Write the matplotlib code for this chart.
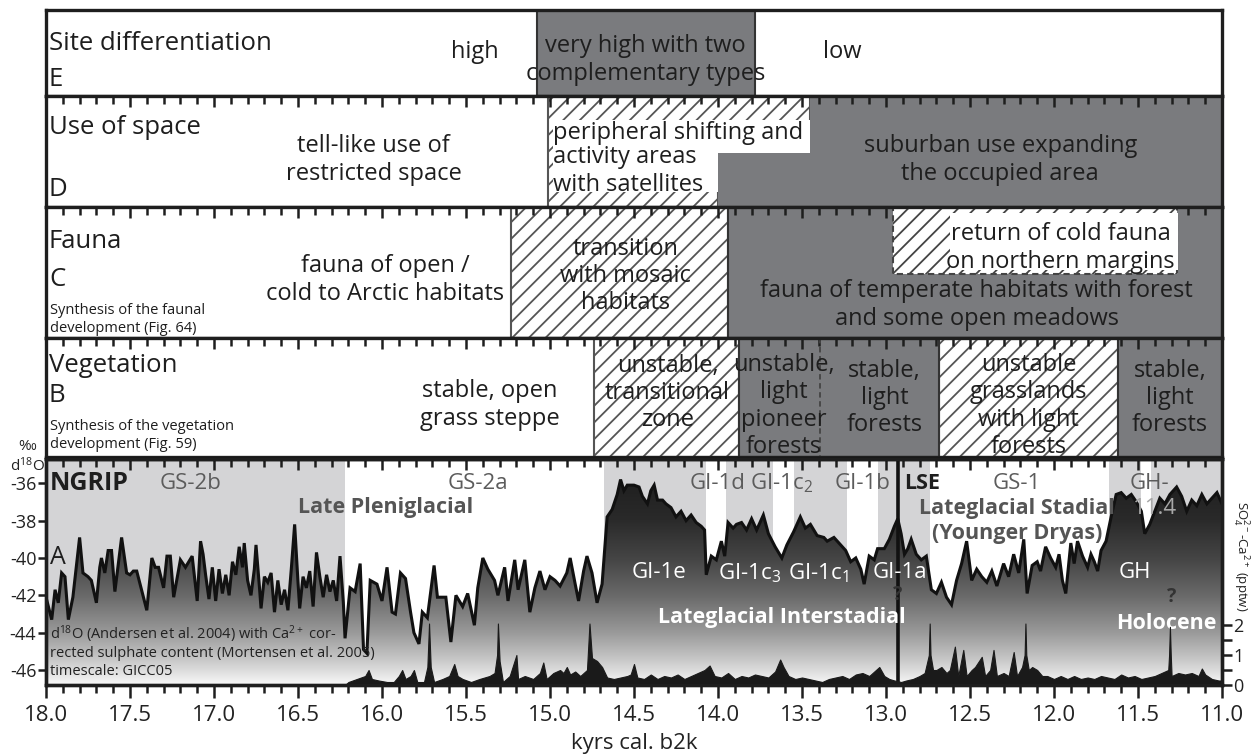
import numpy as np
import matplotlib
matplotlib.use('Agg')
import matplotlib.pyplot as plt
from matplotlib.ticker import MultipleLocator, FixedLocator
from matplotlib.patches import Rectangle, Polygon, PathPatch
from matplotlib.colors import LinearSegmentedColormap

plt.rcParams['font.family'] = ['Open Sans', 'DejaVu Sans']
plt.rcParams['mathtext.fontset'] = 'custom'
plt.rcParams['mathtext.rm'] = 'Open Sans'
plt.rcParams['mathtext.it'] = 'Open Sans'
plt.rcParams['mathtext.bf'] = 'Open Sans:bold'
plt.rcParams['hatch.linewidth'] = 1.3
plt.rcParams['hatch.color'] = '#555555'

DARK = '#7a7b7e'
LIGHT = '#d4d4d6'
INK = '#1e1e1e'

# ---------------- data ----------------
# NGRIP d18O (permil), kyr b2k
t_d18o = [18.00, 17.966, 17.946, 17.927, 17.907, 17.887, 17.867, 17.84, 17.80, 17.78,
          17.75, 17.73, 17.70, 17.68, 17.67, 17.65, 17.63, 17.61, 17.59, 17.55,
          17.52, 17.50, 17.48, 17.46, 17.40, 17.37, 17.35, 17.33, 17.30, 17.28,
          17.26, 17.24, 17.20, 17.17, 17.13, 17.10, 17.08, 17.065, 17.05, 17.03,
          17.01, 16.99, 16.97, 16.95, 16.93, 16.91, 16.89, 16.87, 16.85, 16.83,
          16.82, 16.80, 16.78, 16.76, 16.75, 16.73, 16.72, 16.70, 16.68, 16.66,
          16.64, 16.62, 16.60, 16.58, 16.56, 16.54, 16.52, 16.50, 16.49, 16.47,
          16.45, 16.43, 16.41, 16.39, 16.37, 16.35, 16.33, 16.31, 16.29, 16.27,
          16.25, 16.23, 16.22, 16.19, 16.16, 16.13, 16.11, 16.09, 16.07, 16.03,
          16.00, 15.97, 15.94, 15.92, 15.89, 15.86, 15.83, 15.81, 15.78, 15.76,
          15.73, 15.69, 15.67, 15.62, 15.59, 15.56, 15.52, 15.49, 15.45, 15.43,
          15.40, 15.37, 15.33, 15.31, 15.27, 15.25, 15.21, 15.19, 15.15, 15.12,
          15.09, 15.06, 15.03, 15.00, 14.97, 14.94, 14.90, 14.88, 14.85, 14.83,
          14.80, 14.78, 14.75, 14.72, 14.69, 14.66, 14.63, 14.60, 14.58, 14.56,
          14.54, 14.50, 14.47, 14.45, 14.42, 14.40, 14.38, 14.36, 14.33, 14.31,
          14.28, 14.25, 14.22, 14.19, 14.16, 14.13, 14.10, 14.08, 14.07, 14.04,
          14.01, 13.98, 13.96, 13.94, 13.91, 13.89, 13.86, 13.83, 13.80, 13.77,
          13.73, 13.70, 13.66, 13.62, 13.59, 13.55, 13.51, 13.48, 13.45, 13.41,
          13.37, 13.35, 13.31, 13.27, 13.24, 13.21, 13.18, 13.15, 13.13, 13.10,
          13.07, 13.05, 13.01, 12.98, 12.95, 12.93, 12.91, 12.89, 12.87, 12.85,
          12.82, 12.79, 12.76, 12.73, 12.70, 12.67, 12.64, 12.61, 12.58, 12.55,
          12.52, 12.49, 12.46, 12.43, 12.40, 12.37, 12.34, 12.30, 12.27, 12.24,
          12.21, 12.18, 12.16, 12.13, 12.10, 12.08, 12.05, 12.02, 11.99, 11.97,
          11.95, 11.93, 11.90, 11.88, 11.86, 11.83, 11.80, 11.78, 11.76, 11.74,
          11.72, 11.69, 11.66, 11.63, 11.60, 11.57, 11.54, 11.51, 11.48, 11.46,
          11.43, 11.40, 11.37, 11.34, 11.31, 11.27, 11.24, 11.21, 11.18, 11.15,
          11.12, 11.09, 11.06, 11.03, 11.00]
v_d18o = [-42.1, -43.3, -41.7, -42.4, -40.8, -41.0, -43.3, -42.1, -38.9, -40.8,
          -41.0, -41.2, -42.4, -40.5, -40.0, -40.8, -39.6, -39.6, -41.8, -38.9,
          -40.8, -40.9, -40.7, -40.7, -42.8, -40.0, -40.5, -40.5, -41.6, -39.9,
          -39.9, -42.1, -40.1, -40.5, -39.9, -42.3, -39.1, -39.8, -40.9, -42.2,
          -40.5, -42.3, -40.6, -41.9, -40.9, -42.0, -40.2, -40.9, -39.4, -40.5,
          -39.2, -41.2, -42.0, -40.6, -39.3, -41.5, -42.7, -41.0, -41.3, -40.8,
          -42.9, -41.2, -42.5, -41.7, -42.8, -40.6, -38.2, -41.3, -42.7, -41.0,
          -41.6, -40.7, -42.6, -39.7, -41.0, -42.1, -40.9, -41.8, -41.2, -42.3,
          -39.9, -42.4, -44.3, -41.6, -41.8, -40.3, -44.9, -45.1, -41.2, -41.4,
          -42.3, -40.5, -42.9, -43.0, -40.8, -41.1, -42.9, -44.0, -44.6, -42.9,
          -43.2, -40.4, -42.1, -42.1, -44.5, -42.0, -42.6, -41.9, -43.6, -41.6,
          -40.0, -40.6, -41.2, -42.0, -40.5, -42.3, -40.1, -41.7, -40.1, -42.9,
          -41.6, -40.7, -41.7, -41.0, -41.2, -41.5, -40.8, -40.0, -41.4, -42.3,
          -40.7, -39.9, -40.8, -42.4, -41.4, -37.8, -37.4, -36.6, -35.8, -36.4,
          -36.1, -36.1, -36.2, -36.7, -37.1, -36.4, -36.1, -36.9, -36.9, -37.1,
          -37.3, -37.8, -37.5, -38.0, -37.7, -38.1, -38.3, -38.5, -40.9, -39.9,
          -40.1, -39.1, -39.9, -38.1, -38.4, -38.2, -38.1, -38.5, -37.9, -38.5,
          -37.7, -38.7, -39.4, -40.0, -39.3, -38.6, -37.8, -38.4, -38.2, -38.8,
          -38.9, -39.1, -38.9, -39.3, -39.6, -40.2, -40.0, -40.6, -41.4, -39.9,
          -40.1, -39.5, -39.5, -39.0, -38.3, -37.9, -38.7, -39.8, -39.5, -39.0,
          -39.8, -40.1, -39.9, -41.7, -41.9, -41.3, -42.1, -42.5, -41.2, -40.3,
          -39.1, -41.2, -40.6, -41.0, -41.3, -40.7, -41.5, -40.3, -41.0, -39.8,
          -40.8, -39.0, -41.9, -40.4, -40.2, -40.7, -39.4, -40.0, -40.5, -39.8,
          -41.2, -41.9, -39.2, -40.3, -39.1, -39.9, -40.5, -39.8, -40.2, -40.7,
          -39.6, -39.1, -37.8, -36.6, -36.5, -36.8, -36.6, -37.0, -37.5, -38.7,
          -38.2, -37.5, -36.8, -37.1, -36.6, -36.2, -36.7, -37.5, -36.9, -37.2,
          -36.6, -37.1, -36.8, -36.5, -37.1]

# sulphate (SO4 2- minus Ca 2+), pptw
t_so4 = [16.22, 16.20, 16.15, 16.10, 16.08, 16.06, 16.02, 15.97, 15.93, 15.90,
         15.88, 15.86, 15.83, 15.81, 15.79, 15.75, 15.73, 15.72, 15.71, 15.69,
         15.64, 15.60, 15.57, 15.55, 15.52, 15.47, 15.42, 15.36, 15.33, 15.315,
         15.31, 15.30, 15.28, 15.24, 15.20, 15.19, 15.15, 15.10, 15.06, 15.04,
         15.02, 14.98, 14.94, 14.92, 14.90, 14.88, 14.85, 14.82, 14.78, 14.765,
         14.75, 14.72, 14.69, 14.66, 14.62, 14.58, 14.54, 14.52, 14.50, 14.48,
         14.44, 14.40, 14.36, 14.32, 14.28, 14.24, 14.20, 14.16, 14.12, 14.08,
         14.05, 14.02, 13.98, 13.94, 13.90, 13.86, 13.82, 13.78, 13.74, 13.70,
         13.66, 13.63, 13.61, 13.58, 13.54, 13.50, 13.46, 13.42, 13.38, 13.34,
         13.30, 13.26, 13.22, 13.18, 13.14, 13.10, 13.06, 13.04, 13.01, 12.98,
         12.95, 12.91, 12.88, 12.84, 12.80, 12.77, 12.745, 12.74, 12.735, 12.72,
         12.70, 12.67, 12.64, 12.62, 12.59, 12.57, 12.54, 12.52, 12.49, 12.47,
         12.43, 12.41, 12.38, 12.36, 12.34, 12.30, 12.27, 12.24, 12.22, 12.19,
         12.175, 12.17, 12.165, 12.15, 12.13, 12.10, 12.07, 12.04, 12.00, 11.96,
         11.92, 11.88, 11.84, 11.80, 11.76, 11.72, 11.68, 11.64, 11.60, 11.56,
         11.52, 11.48, 11.44, 11.40, 11.36, 11.32, 11.315, 11.31, 11.305, 11.30,
         11.26, 11.22, 11.18, 11.14, 11.12, 11.10, 11.06, 11.02, 11.00]
v_so4 = [0.0, 0.1, 0.2, 0.3, 0.5, 0.2, 0.15, 0.1, 0.1, 0.3,
         0.5, 0.2, 0.3, 0.5, 0.1, 0.1, 0.6, 2.05, 0.6, 0.1,
         0.2, 0.3, 0.7, 0.3, 0.2, 0.1, 0.2, 0.3, 0.4, 1.0,
         2.05, 0.8, 0.1, 0.3, 1.0, 0.2, 0.3, 0.2, 0.4, 0.75,
         0.2, 0.4, 0.5, 0.4, 0.6, 0.35, 0.45, 0.3, 0.5, 2.05,
         0.9, 0.8, 0.6, 0.25, 0.2, 0.25, 0.3, 0.35, 0.7, 0.25,
         0.2, 0.35, 0.2, 0.3, 0.25, 0.35, 0.2, 0.3, 0.4, 0.5,
         0.65, 0.3, 0.25, 0.4, 0.2, 0.3, 0.25, 0.35, 0.3, 0.25,
         0.45, 0.85, 0.6, 0.3, 0.2, 0.25, 0.2, 0.15, 0.1, 0.2,
         0.25, 0.3, 0.2, 0.35, 0.4, 0.3, 0.5, 0.6, 0.3, 0.2,
         0.15, 0.1, 0.15, 0.2, 0.3, 0.4, 1.0, 2.05, 1.0, 0.5,
         0.5, 0.6, 0.4, 0.5, 1.28, 0.3, 1.17, 0.3, 0.5, 0.6,
         0.94, 0.3, 0.5, 1.17, 0.3, 0.4, 0.3, 1.1, 0.3, 0.6,
         1.0, 2.05, 1.0, 0.5, 0.6, 0.5, 0.3, 0.3, 0.2, 0.3,
         0.2, 0.3, 0.2, 0.25, 0.2, 0.3, 0.25, 0.2, 0.35, 0.25,
         0.3, 0.2, 0.25, 0.3, 0.4, 0.5, 1.0, 1.94, 1.0, 0.3,
         0.4, 0.35, 0.4, 0.3, 0.55, 0.35, 0.2, 0.15, 0.15]

# greenland event stratigraphy bands (light grey)
band_start = [18.00, 14.68, 13.95, 13.55, 13.05, 11.67, 11.42]
band_end = [16.22, 14.07, 13.67, 13.23, 12.74, 11.48, 11.00]
lse_age = 12.93

# synthesis panels
site_dark = (15.08, 13.78)
space_hatch_top = (15.01, 13.45)
space_hatch_low = (15.01, 14.00)
fauna_hatch = (15.23, 13.94)
fauna_return = (12.96, 11.27)
veg_hatch = [(14.74, 13.875), (12.685, 11.62)]
veg_dark = [(13.875, 12.685), (11.62, 11.00)]
veg_dash = 13.39

# ---------------- figure ----------------
W, H = 1257, 756
L, R = 46, 1222
fig = plt.figure(figsize=(W / 100, H / 100), dpi=100)

BODY = 17      # text inside the synthesis boxes
HEAD = 18.5    # panel titles
SMALL = 10.5   # small notes


def fx(px):
    return px / W


def fy(py):
    return 1 - py / H


def kx(px):
    return 18 - (px - L) / ((R - L) / 7.0)


def panel(top, bot, ticks=True):
    ax = fig.add_axes([fx(L), fy(bot), (R - L) / W, (bot - top) / H])
    ax.set_xlim(18, 11)
    ax.set_ylim(bot, top)
    ax.set_yticks([])
    for s in ax.spines.values():
        s.set_linewidth(2.4)
        s.set_color(INK)
    ax.xaxis.set_major_locator(MultipleLocator(0.5))
    ax.xaxis.set_minor_locator(MultipleLocator(0.1))
    ax.tick_params(axis='x', which='both', top=ticks, bottom=False, direction='in',
                   labelbottom=False, labeltop=False, width=1.8, color=INK)
    ax.tick_params(axis='x', which='major', length=8)
    ax.tick_params(axis='x', which='minor', length=5.5)
    return ax


def txt(ax, x, y, s, size=BODY, ha='center', **kw):
    kw.setdefault('color', INK)
    ax.text(x, y, s, fontsize=size, ha=ha, va='center', linespacing=1.17, zorder=5, **kw)


def title(ax, y1, s1, y2, s2, small=None):
    txt(ax, kx(49), y1, s1, size=HEAD, ha='left')
    txt(ax, kx(49), y2, s2, size=HEAD, ha='left')
    if small:
        for yy, ss in small:
            txt(ax, kx(50), yy, ss, size=SMALL, ha='left')


# ---- E: site differentiation ----
axE = panel(10, 96, ticks=False)
axE.add_patch(Rectangle((site_dark[0], 10), site_dark[1] - site_dark[0], 86,
                        facecolor=DARK, edgecolor='#333333', lw=1.5))
title(axE, 43, 'Site differentiation', 80, 'E')
txt(axE, 15.45, 52, 'high')
txt(axE, 14.43, 60, 'very high with two\ncomplementary types')
txt(axE, 13.26, 52, 'low')

# ---- D: use of space ----
axD = panel(96, 207)
x0, x1 = space_hatch_top
x2 = space_hatch_low[1]
axD.add_patch(Polygon([(x0, 96), (x1, 96), (x1, 153), (x2, 153), (x2, 207), (x0, 207)],
                      closed=True, facecolor='white', edgecolor='#555555', lw=1.5, hatch='//'))
axD.add_patch(Polygon([(x1, 96), (11, 96), (11, 207), (x2, 207), (x2, 153), (x1, 153)],
                      closed=True, facecolor=DARK, edgecolor='none'))
axD.add_patch(Rectangle((x0 - 0.025, 120), x1 - x0 + 0.025, 33, facecolor='white', edgecolor='none', zorder=2))
axD.add_patch(Rectangle((x0 - 0.025, 152), x2 - x0 + 0.025, 40, facecolor='white', edgecolor='none', zorder=2))
title(axD, 127, 'Use of space', 190, 'D')
txt(axD, 16.05, 160, 'tell-like use of\nrestricted space')
txt(axD, x0 - 0.03, 133, 'peripheral shifting and', ha='left')
txt(axD, x0 - 0.03, 171, 'activity areas\nwith satellites', ha='left')
txt(axD, 12.32, 160, 'suburban use expanding\nthe occupied area')

# ---- C: fauna ----
axC = panel(207, 338)
axC.add_patch(Rectangle((fauna_hatch[0], 207), fauna_hatch[1] - fauna_hatch[0], 131,
                        facecolor='white', edgecolor='#555555', lw=1.5, hatch='//'))
axC.add_patch(Rectangle((fauna_hatch[1], 207), 11 - fauna_hatch[1], 131,
                        facecolor=DARK, edgecolor='#333333', lw=1.5))
axC.add_patch(Rectangle((fauna_return[0], 207), fauna_return[1] - fauna_return[0], 67,
                        facecolor='white', edgecolor='#444444', lw=1.5, ls=(0, (3, 2)),
                        hatch='//', zorder=2))
axC.add_patch(Rectangle((12.62, 213), fauna_return[1] - 12.62 - 0.01, 57,
                        facecolor='white', edgecolor='none', zorder=2.2))
title(axC, 242, 'Fauna', 280, 'C',
      small=[(310, 'Synthesis of the faunal'), (328, 'development (Fig. 64)')])
txt(axC, 15.98, 280, 'fauna of open /\ncold to Arctic habitats')
txt(axC, 14.55, 276, 'transition\nwith mosaic\nhabitats')
txt(axC, 11.96, 248, 'return of cold fauna\non northern margins')
txt(axC, 12.46, 305, 'fauna of temperate habitats with forest\nand some open meadows')

# ---- B: vegetation ----
axB = panel(338, 457)
for a, b in veg_hatch:
    axB.add_patch(Rectangle((a, 338), b - a, 119, facecolor='white', edgecolor='#555555',
                            lw=1.5, hatch='//'))
for a, b in veg_dark:
    axB.add_patch(Rectangle((a, 338), b - a, 119, facecolor=DARK, edgecolor='#333333', lw=1.5))
axB.plot([veg_dash, veg_dash], [338, 457], color='#444444', lw=1.3, ls=(0, (3, 2)))
title(axB, 365, 'Vegetation', 395, 'B',
      small=[(427, 'Synthesis of the vegetation'), (445, 'development (Fig. 59)')])
txt(axB, 15.36, 405, 'stable, open\ngrass steppe')
txt(axB, 14.30, 393, 'unstable,\ntransitional\nzone')
txt(axB, 13.61, 406, 'unstable,\nlight\npioneer\nforests')
txt(axB, 13.01, 398, 'stable,\nlight\nforests')
txt(axB, 12.15, 406, 'unstable\ngrasslands\nwith light\nforests')
txt(axB, 11.31, 398, 'stable,\nlight\nforests')

# ---- A: NGRIP ----
axA = fig.add_axes([fx(L), fy(685), (R - L) / W, 226 / H])
ylo, yhi = -46.8, -34.7
axA.set_xlim(18, 11)
axA.set_ylim(ylo, yhi)
for a, b in zip(band_start, band_end):
    axA.axvspan(a, b, facecolor=LIGHT, edgecolor='none', zorder=0)

fill = axA.fill_between(t_d18o, v_d18o, ylo - 1, facecolor='none', edgecolor='none')
clip = PathPatch(fill.get_paths()[0], transform=axA.transData, facecolor='none', edgecolor='none')
axA.add_patch(clip)
cmap = LinearSegmentedColormap.from_list(
    'ngrip', [(0.0, '#1a1a1a'), (0.27, '#2a2a2a'), (0.44, '#454545'), (0.60, '#686868'),
              (0.77, '#9a9a9a'), (0.89, '#c8c8c8'), (1.0, '#f8f8f8')])
grad = np.linspace(0, 1, 256).reshape(-1, 1)
img = axA.imshow(grad, cmap=cmap, aspect='auto', extent=(18, 11, ylo, yhi),
                 origin='upper', zorder=1)
img.set_clip_path(clip)
axA.plot(t_d18o, v_d18o, color='#111111', lw=2.2, zorder=3, solid_joinstyle='miter')
axA.axvline(lse_age, color='#111111', lw=2.6, zorder=4)
axA.set_xlim(18, 11)
axA.set_ylim(ylo, yhi)

for s in axA.spines.values():
    s.set_linewidth(2.4)
    s.set_color(INK)
axA.xaxis.set_major_locator(MultipleLocator(0.5))
axA.xaxis.set_minor_locator(MultipleLocator(0.1))
axA.xaxis.set_major_formatter(plt.FuncFormatter(lambda v, p: f'{v:.1f}'))
axA.tick_params(axis='x', which='both', direction='out', width=1.8, color=INK,
                labelsize=16, pad=5, labelcolor='#222222')
axA.tick_params(axis='x', which='major', length=9.5)
axA.tick_params(axis='x', which='minor', length=6)
axA.set_yticks([-36, -38, -40, -42, -44, -46])
axA.yaxis.set_major_formatter(plt.FuncFormatter(lambda v, p: f'{v:.0f}'))
axA.tick_params(axis='y', direction='out', length=6, width=1.8, labelsize=13, pad=1,
                color=INK, labelcolor='#222222')
axA.set_xlabel('kyrs cal. b2k', fontsize=16, labelpad=5, color='#222222')

top = axA.secondary_xaxis('top')
top.xaxis.set_major_locator(MultipleLocator(0.5))
top.xaxis.set_minor_locator(MultipleLocator(0.1))
top.tick_params(axis='x', which='both', direction='in', width=1.8, color=INK, labeltop=False)
top.tick_params(axis='x', which='major', length=8)
top.tick_params(axis='x', which='minor', length=5.5)
top.spines['top'].set_linewidth(2.4)

axS = axA.twinx()
axS.set_ylim(0, 226 / 30.0)
axS.fill_between(t_so4, 0, v_so4, facecolor='#1a1a1a', edgecolor='#1a1a1a', lw=0.8, zorder=2)
axS.yaxis.set_major_locator(FixedLocator([0, 1, 2]))
axS.yaxis.set_minor_locator(FixedLocator([0.5, 1.5]))
axS.tick_params(axis='y', which='both', direction='out', width=1.8, color=INK,
                labelsize=13, pad=1, labelcolor='#222222')
axS.tick_params(axis='y', which='major', length=7)
axS.tick_params(axis='y', which='minor', length=7)
for s in axS.spines.values():
    s.set_linewidth(2.4)
    s.set_color(INK)

GREY_TXT = '#5c5c5c'
LBL = 16
BLD = 15.5
axA.text(kx(50), -36.0, 'NGRIP', fontsize=18, fontweight='bold', color=INK, va='center', zorder=6)
axA.text(kx(50), -40.0, 'A', fontsize=18, color=INK, va='center', zorder=6)
for x, s in [(17.14, 'GS-2b'), (15.43, 'GS-2a'), (14.00, 'GI-1d'), (13.62, 'GI-1c$_2$'),
             (13.14, 'GI-1b'), (12.22, 'GS-1'), (11.43, 'GH-')]:
    axA.text(x, -36.0, s, fontsize=LBL, color=GREY_TXT, ha='center', va='center', zorder=6)
axA.text(kx(904), -36.0, 'LSE', fontsize=BLD, fontweight='bold', color=INK, ha='left',
         va='center', zorder=6)
axA.text(15.98, -37.3, 'Late Pleniglacial', fontsize=BLD, fontweight='bold', color='#555555',
         ha='center', va='center', zorder=6)
axA.text(12.22, -37.35, 'Lateglacial Stadial', fontsize=BLD, fontweight='bold', color='#555555',
         ha='center', va='center', zorder=6)
axA.text(12.22, -38.7, '(Younger Dryas)', fontsize=BLD, fontweight='bold', color='#555555',
         ha='center', va='center', zorder=6)
axA.text(11.40, -37.35, '11.4', fontsize=LBL, color='#a8a8a8', ha='center', va='center', zorder=6)
for x, s in [(14.35, 'GI-1e'), (13.81, 'GI-1c$_3$'), (13.40, 'GI-1c$_1$'), (12.92, 'GI-1a'),
             (11.52, 'GH')]:
    axA.text(x, -40.8, s, fontsize=LBL, color='white', ha='center', va='center', zorder=6)
axA.text(13.62, -43.2, 'Lateglacial Interstadial', fontsize=BLD, fontweight='bold',
         color='white', ha='center', va='center', zorder=6)
axA.text(11.33, -43.5, 'Holocene', fontsize=BLD, fontweight='bold', color='white',
         ha='center', va='center', zorder=6)
axA.text(12.93, -42.0, '?', fontsize=14, fontweight='bold', color='#333333', ha='center',
         va='center', zorder=6)
axA.text(11.30, -42.1, '?', fontsize=14, fontweight='bold', color='#333333', ha='center',
         va='center', zorder=6)
for y, s in [(-44.1, 'd$^{18}$O (Andersen et al. 2004) with Ca$^{2+}$ cor-'),
             (-45.1, 'rected sulphate content (Mortensen et al. 2005)'),
             (-46.1, 'timescale: GICC05')]:
    axA.text(kx(50), y, s, fontsize=SMALL, color='#222222', va='center', zorder=6)

fig.text(fx(27), fy(447), '‰', fontsize=11, ha='center', va='center', color='#222222')
fig.text(fx(27), fy(466), 'd$^{18}$O', fontsize=11, ha='center', va='center', color='#222222')
fig.text(fx(1240), fy(556), 'SO$_4^{2-}$-Ca$^{2+}$ (pptw)', fontsize=9.5, rotation=270,
         ha='center', va='center', color='#222222')

fig.savefig('out.png', dpi=100)
